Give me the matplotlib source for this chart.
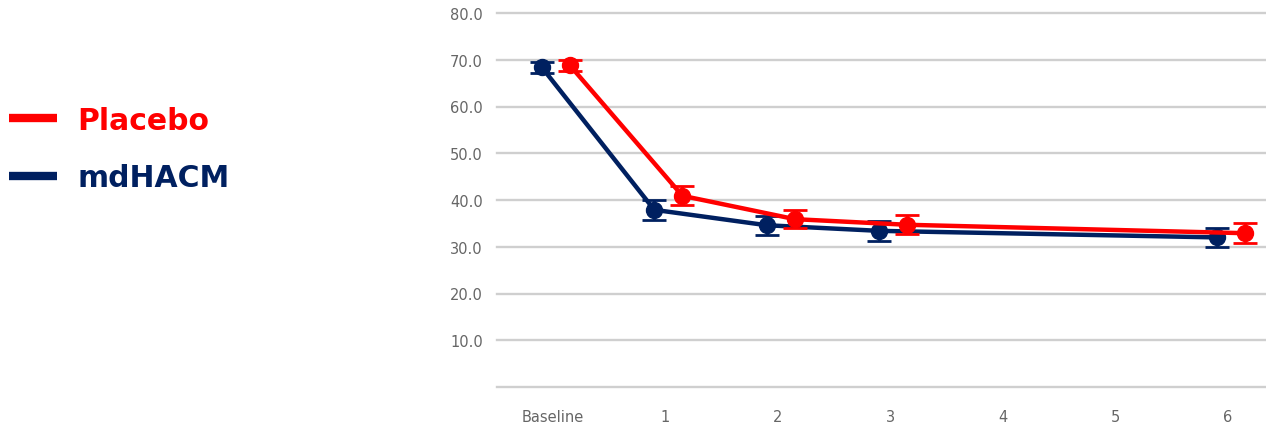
import matplotlib
matplotlib.use("Agg")
import matplotlib.pyplot as plt
from matplotlib.lines import Line2D
import numpy as np

# ---- data ----
categories = ["Baseline", "1", "2", "3", "4", "5", "6"]
visits = [0, 1, 2, 3, 6]
placebo_mean = [68.8, 40.9, 35.9, 34.7, 32.9]
placebo_err = [1.1, 2.0, 1.9, 2.0, 2.1]
mdhacm_mean = [68.4, 37.9, 34.6, 33.4, 32.0]
mdhacm_err = [1.2, 2.1, 2.0, 2.1, 2.1]
yticks = [10, 20, 30, 40, 50, 60, 70, 80]

RED = "#FF0000"
NAVY = "#002060"
GRID = "#CFCFCF"
TICK = "#666666"

plt.rcParams['font.family'] = ['DejaVu Sans']

fig = plt.figure(figsize=(12.66, 4.27), dpi=100)
W, H = 1266, 427
left_px, right_px = 496.75, 496.75 + 787.5
top_px, bot_px = 14, 388
ax = fig.add_axes([left_px / W, (H - bot_px) / H, (right_px - left_px) / W, (bot_px - top_px) / H])

vx = np.array(visits, dtype=float)
ax.errorbar(vx - 0.10, mdhacm_mean, yerr=mdhacm_err, color=NAVY, lw=3.2, marker="o",
            markersize=11.5, ecolor=NAVY, elinewidth=2, capsize=8.5, capthick=2, zorder=3)
ax.errorbar(vx + 0.15, placebo_mean, yerr=placebo_err, color=RED, lw=3.2, marker="o",
            markersize=11.5, ecolor=RED, elinewidth=2, capsize=8.5, capthick=2, zorder=4)

ax.set_xlim(-0.5, 6.5)
ax.set_ylim(0, 80)
ax.set_xticks(range(len(categories)))
ax.set_xticklabels(categories)
ax.set_yticks([0] + yticks)
ax.set_yticklabels([""] + [f"{v:.1f}" for v in yticks])
ax.grid(axis="y", color=GRID, lw=1.7)
for gl in ax.get_ygridlines():
    gl.set_clip_on(False)
ax.set_axisbelow(True)
for s in ax.spines.values():
    s.set_visible(False)
ax.tick_params(axis="both", length=0, labelsize=10.5, labelcolor=TICK)
ax.tick_params(axis="y", pad=10)
ax.tick_params(axis="x", pad=15.5)

handles = [Line2D([], [], color=RED, lw=6, solid_capstyle="butt"),
           Line2D([], [], color=NAVY, lw=6, solid_capstyle="butt")]
leg = fig.legend(handles, ["Placebo", "mdHACM"], loc="center left",
                 bbox_to_anchor=(0.0, 1 - 150 / H), frameon=False,
                 prop={"size": 21.5, "weight": "bold"}, handlelength=1.6,
                 handletextpad=0.7, labelspacing=0.95, borderaxespad=0.0,
                 borderpad=0.3)
for t, c in zip(leg.get_texts(), [RED, NAVY]):
    t.set_color(c)

fig.savefig("out.png", dpi=100)
